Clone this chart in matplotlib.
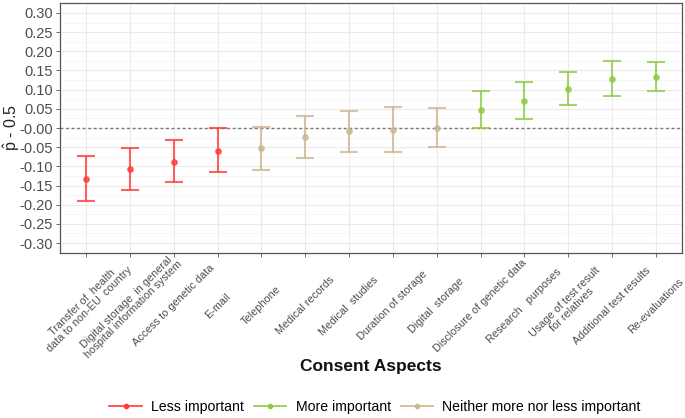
import matplotlib
matplotlib.use("Agg")
import matplotlib.pyplot as plt
from matplotlib.lines import Line2D
import numpy as np

plt.rcParams['font.family'] = ['Liberation Sans', 'DejaVu Sans']
plt.rcParams['mathtext.fontset'] = 'custom'
plt.rcParams['mathtext.rm'] = 'Liberation Sans'
plt.rcParams['mathtext.it'] = 'Liberation Sans:italic'

categories = ["Transfer of  health\ndata to non-EU  country",
              "Digital storage  in general\nhospital information system",
              "Access to genetic data", "E-mail", "Telephone", "Medical records",
              "Medical  studies", "Duration of storage", "Digital  storage",
              "Disclosure of genetic data", "Research   purposes",
              "Usage of test result\nfor relatives", "Additional test results",
              "Re-evaluations"]
estimate = [-0.134, -0.107, -0.088, -0.059, -0.053, -0.024, -0.009, -0.004, 0.001,
            0.048, 0.071, 0.102, 0.129, 0.134]
lower = [-0.190, -0.162, -0.141, -0.116, -0.110, -0.078, -0.062, -0.062, -0.049,
         0.001, 0.024, 0.059, 0.084, 0.097]
upper = [-0.073, -0.052, -0.030, 0.000, 0.003, 0.032, 0.045, 0.056, 0.051,
         0.097, 0.119, 0.145, 0.175, 0.172]
group = ["Less important"] * 4 + ["Neither more nor less important"] * 5 + ["More important"] * 5
group_colors = {"Less important": "#FF3A3A",
                "More important": "#8CCB45",
                "Neither more nor less important": "#CDB590"}
legend_order = ["Less important", "More important", "Neither more nor less important"]
yticks = np.round(np.arange(-0.30, 0.301, 0.05), 2)

fig = plt.figure(figsize=(6.85, 4.18), dpi=100)
ax = fig.add_axes([60/685, 1-253/418, 622/685, 250/418])

x = np.arange(len(categories))
for i in x:
    c = group_colors[group[i]]
    ax.errorbar(i, estimate[i], yerr=[[estimate[i]-lower[i]], [upper[i]-estimate[i]]],
                fmt='o', color=c, ecolor=c, elinewidth=1.5, capsize=6.5, capthick=1.5,
                markersize=3.8, alpha=0.8, zorder=3)

ax.axhline(0, color="#777777", linestyle=(0, (2, 2)), linewidth=1.0, zorder=2)

ax.set_xlim(-0.6, len(categories) - 1 + 0.6)
ax.set_ylim(-0.326, 0.326)
ax.set_yticks(yticks)
ax.set_yticklabels([f"{v:.2f}" for v in yticks], fontsize=10.5, color="#4D4D4D")
ax.set_yticks(np.arange(-0.325, 0.326, 0.025), minor=True)
ax.set_xticks(x)
ax.set_xticklabels(categories, rotation=45, ha="center", va="center", rotation_mode="anchor",
                   fontsize=7.8, color="#4D4D4D", multialignment="center", linespacing=1.05)
ax.tick_params(axis="both", which="major", length=3, color="#555555", width=0.6)
ax.tick_params(axis="y", which="minor", length=0)
ax.tick_params(axis="y", pad=2)
ax.tick_params(axis="x", pad=35)
ax.grid(True, which="major", color="#EBEBEB", linewidth=0.8, zorder=0)
ax.grid(True, which="minor", axis="y", color="#F3F3F3", linewidth=0.5, zorder=0)
ax.set_axisbelow(True)
for s in ax.spines.values():
    s.set_color("#555555")
    s.set_linewidth(0.9)

fig.text(12/685, 1-128/418, r"$\hat{\mathrm{p}}$ - 0.5", rotation=90, ha="center", va="center",
         fontsize=11.5, color="#222222")
fig.text(371/685, 1-367/418, "Consent Aspects", ha="center", va="center",
         fontsize=12.5, fontweight="bold", color="#111111")

handles = [Line2D([0], [0], color=group_colors[g], marker="o", markersize=3, linewidth=1.2)
           for g in legend_order]
fig.legend(handles, legend_order, loc="center", bbox_to_anchor=(375/685, 1-407/418),
           ncol=3, frameon=False, fontsize=10.2, handlelength=2.3, columnspacing=0.7,
           handletextpad=0.65)

fig.savefig("out.png", dpi=100)
